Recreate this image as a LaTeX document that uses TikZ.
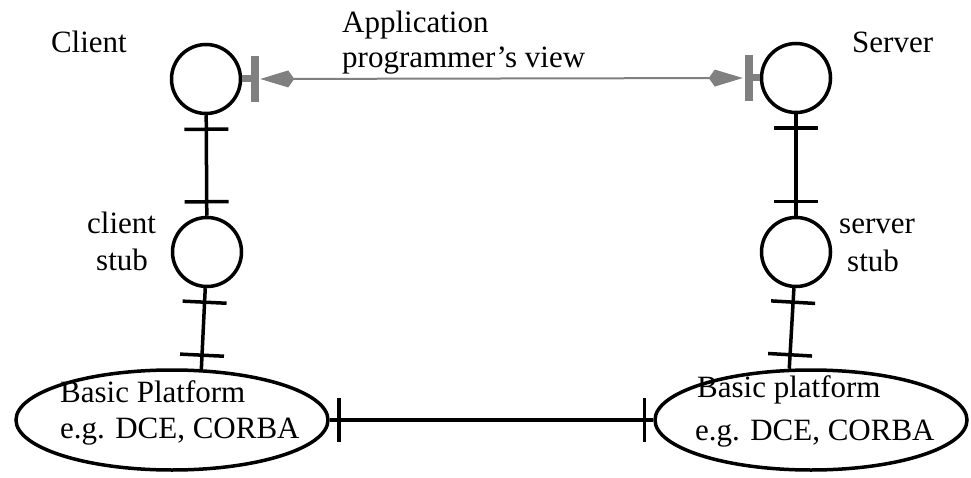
\documentclass[tikz,border=0pt]{standalone}
\usepackage{fontspec}
\setmainfont{Liberation Serif}
\usetikzlibrary{shapes.geometric,arrows.meta,decorations.markings,calc}
\begin{document}
\begin{tikzpicture}[x=1pt,y=-1pt,
  circ/.style={circle, draw, line width=3.5pt, minimum size=69pt, inner sep=0pt},
  ell/.style={ellipse, draw, line width=3.5pt, minimum width=312pt, minimum height=100pt, inner sep=0pt},
  lbl/.style={font=\fontsize{31}{36}\selectfont, inner sep=0pt, anchor=base west},
  link/.style={line width=3.5pt, postaction={decorate},
    decoration={markings,
      mark=at position #1 with {\draw[line width=3.5pt] (0,-22pt) -- (0,22pt);},
      mark=at position -#1 with {\draw[line width=3.5pt] (0,-22pt) -- (0,22pt);}}},
  link/.default=14pt,
  gstub/.style={draw=gray, line width=7pt},
  gbar/.style={draw=gray, line width=8pt},
  garrow/.style={draw=gray, line width=2pt,
    {Kite[length=34pt,width=17pt,inset=6pt]}-{Kite[length=34pt,width=17pt,inset=6pt]},
    shorten <=5pt, shorten >=6pt}
]
\useasboundingbox (0,0) rectangle (971,478);

% circles and ellipses
\node[circ] (c1) at (206,79) {};
\node[circ] (s1) at (796,78) {};
\node[circ] (c2) at (207,252) {};
\node[circ] (s2) at (796,252) {};
\node[ell] (e1) at (172,420) {};
\node[ell] (e2) at (811,420) {};

% black connectors with ticks
\draw[link] (c1) -- (c2);
\draw[link] (s1) -- (s2);
\draw[link] (c2) -- (e1.60);
\draw[link] (s2) -- (e2.113);
\draw[link=9pt] (e1) -- (e2);

% gray application-programmer's view connector
\path (c1.east) ++(13,0) coordinate (gbl);
\path (s1.west) ++(-11,0) coordinate (gbr);
\draw[gstub] (c1.east) -- (gbl);
\draw[gstub] (s1.west) -- (gbr);
\draw[gbar] ($(gbl)+(0,-23)$) -- ($(gbl)+(0,23)$);
\draw[gbar] ($(gbr)+(0,-23)$) -- ($(gbr)+(0,23)$);
\draw[garrow] (gbl) -- (gbr);

% labels
\node[lbl, anchor=base east] (tclient) at (127,53) {Client};
\node[lbl] (tserver) at (852,53) {Server};
\node[lbl] (tapp1) at (342,33) {Application};
\node[lbl] (tapp2) at (342,68) {programmer’s view};
\node[lbl] (tcs1) at (87,234) {client};
\node[lbl] (tcs2) at (96,270) {stub};
\node[lbl] (tss1) at (839,234) {server};
\node[lbl] (tss2) at (847,271) {stub};
\node[lbl] (tbl1) at (60,402) {Basic Platform};
\node[lbl] (tbl2) at (60,438) {e.g. DCE, CORBA};
\node[lbl] (tbr1) at (697,397) {Basic platform};
\node[lbl] (tbr2) at (695,440) {e.g. DCE, CORBA};
\end{tikzpicture}
\end{document}
